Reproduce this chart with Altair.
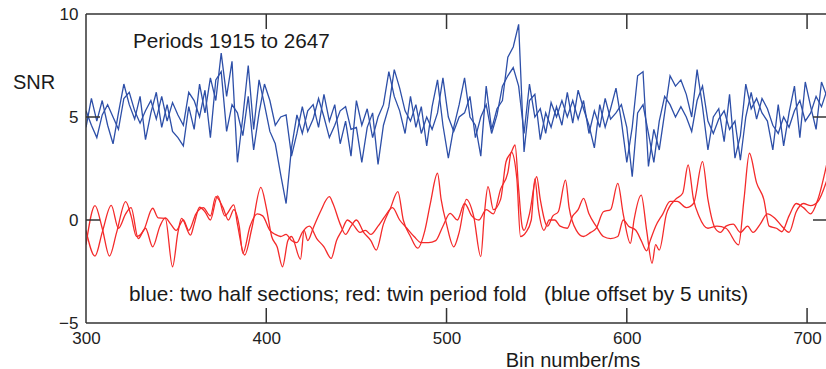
import altair as alt
import pandas as pd

# ---------------- data ----------------
blue_bins = list(range(300, 712, 3))
blue_first = [
    4.5, 5.9, 4.8, 5.8, 4.6, 3.7, 5.2, 6.6, 5.6, 4.9,
    6.0, 3.9, 5.2, 6.2, 4.5, 5.6, 4.3, 4.0, 3.6, 5.5,
    4.4, 6.6, 5.2, 6.9, 5.8, 8.1, 6.0, 7.7, 2.8, 5.0,
    7.5, 4.4, 6.8, 5.6, 4.3, 3.7, 2.2, 0.8, 3.5, 5.1,
    4.2, 5.3, 5.6, 4.5, 6.1, 4.8, 5.6, 3.7, 4.8, 3.1,
    5.8, 4.6, 5.4, 4.0, 5.0, 5.6, 7.2, 6.0, 5.3, 4.2,
    6.0, 4.5, 5.5, 3.6, 5.5, 6.8, 4.6, 3.0, 4.5, 5.6,
    6.9, 5.0, 4.6, 3.1, 6.5, 4.4, 5.4, 5.8, 7.9, 8.4,
    9.5, 3.3, 5.8, 6.1, 3.9, 5.2, 4.5, 5.5, 4.6, 6.2,
    4.7, 6.3, 5.4, 4.6, 3.5, 5.6, 4.5, 5.4, 6.4, 4.8,
    2.8, 4.5, 7.0, 7.2, 2.6, 4.4, 3.4, 5.2, 7.0, 6.5,
    6.8, 6.1, 5.0, 7.3, 5.5, 3.4, 5.0, 5.4, 3.8, 6.1,
    3.0, 4.1, 6.6, 5.4, 5.9, 5.2, 4.8, 3.4, 5.6, 3.6,
    5.2, 6.5, 4.0, 6.7, 5.5, 4.4, 6.7, 6.0,
]
blue_second = [
    5.3, 4.6, 4.0, 5.1, 5.6, 5.0, 4.4, 5.9, 6.2, 5.3,
    4.7, 5.3, 5.8, 4.9, 6.0, 4.8, 5.7, 5.1, 4.6, 6.2,
    5.8, 5.0, 6.3, 4.0, 6.8, 7.2, 4.3, 5.6, 5.2, 4.1,
    6.0, 3.4, 5.2, 6.6, 5.8, 4.6, 5.0, 5.1, 3.1, 4.2,
    5.5, 4.3, 4.9, 5.9, 5.0, 4.0, 4.6, 5.3, 5.5, 4.4,
    4.5, 2.8, 4.5, 5.2, 2.7, 4.6, 5.5, 7.3, 6.4, 5.3,
    4.8, 5.6, 4.2, 5.0, 4.4, 5.2, 6.9, 5.0, 4.3, 5.0,
    5.2, 6.0, 4.0, 5.0, 5.6, 4.2, 5.1, 6.5, 7.0, 7.4,
    6.5, 4.2, 6.6, 5.0, 5.4, 4.2, 5.7, 5.0, 5.8, 5.0,
    5.8, 4.9, 5.8, 4.2, 5.3, 4.5, 5.9, 4.9, 5.2, 5.6,
    4.5, 2.1, 5.2, 5.6, 4.2, 2.8, 4.8, 6.0, 5.6, 5.0,
    5.5, 5.0, 4.3, 5.8, 6.5, 4.8, 4.2, 4.9, 5.3, 4.4,
    4.8, 2.9, 5.0, 6.2, 4.9, 5.9, 5.4, 4.6, 4.2, 5.0,
    4.5, 5.3, 5.8, 4.8, 5.2, 6.0, 5.5, 6.3,
]

red_fold_a = [
    (300, -1.2), (305, 0.7), (309, -0.4), (313, -1.75), (317, -0.6), (322, 0.89),
    (325, 0.2), (328, -0.8), (332, -0.5), (337, 0.57), (340, 0.1), (344, 0.08),
    (348, -2.27), (351, -0.6), (353, 0.08), (358, -0.73), (360, -0.2), (363, 0.62),
    (366, 0.4), (369, 0.0), (373, 1.17), (377, 0.2), (382, 0.73), (384, -0.2),
    (388, -1.7), (392, -0.4), (397, 1.58), (400, 0.6), (403, -0.8), (406, -1.3),
    (409, -2.27), (412, -1.0), (414, -0.8), (419, -1.9), (421, -0.5), (423, -1.0),
    (426, -0.4), (430, 0.4), (435, 1.13), (437, 0.8), (441, -0.2), (444, -0.7),
    (447, -0.3), (450, 0.0), (454, -0.6), (458, -1.0), (461, -1.46), (465, -0.2),
    (469, 0.6), (473, 1.38), (476, 0.0), (480, -0.8), (484, -1.37), (488, -0.5),
    (491, 0.8), (495, 2.27), (497, 1.0), (500, -0.2), (504, -1.3), (507, -0.6),
    (511, 1.0), (515, 0.2), (519, -1.78), (521, 0.3), (523, 1.62), (526, 0.5),
    (530, 1.0), (533, 2.83), (536, 3.3), (538, 3.64), (540, 1.5), (542, -0.33),
    (543, -0.5), (546, 0.3), (550, 2.1), (552, 1.0), (556, -0.3), (559, 0.2),
    (562, 0.4), (566, 1.94), (568, 0.6), (572, -0.5), (576, -0.8), (580, -0.6),
    (583, -0.41), (587, 0.4), (591, 0.5), (595, 1.78), (598, 0.3), (602, -1.13),
    (604, 0.0), (608, 1.21), (611, -0.5), (614, -2.1), (616, -1.2), (618, -1.46),
    (622, 0.3), (627, 1.0), (631, 1.3), (634, 2.67), (637, 1.0), (640, 0.2),
    (645, -0.4), (650, -0.3), (655, -0.4), (662, -1.21), (665, 1.0), (668, 3.24),
    (672, 1.8), (676, 1.0), (679, -0.3), (683, -0.4), (686, -0.57), (690, 0.2),
    (694, 0.8), (698, 0.6), (702, 0.3), (706, 1.0), (711, 2.75),
]
red_fold_b = [
    (300, -0.5), (305, -1.75), (309, -0.6), (314, 0.71), (318, -0.4), (322, 0.3),
    (325, 0.6), (329, -0.9), (333, -0.4), (337, -1.3), (341, -0.3), (344, 0.1),
    (347, -0.2), (350, -0.5), (354, 0.0), (357, -0.5), (361, 0.3), (365, 0.6),
    (369, 0.2), (372, 1.13), (376, 0.6), (379, 0.0), (382, 0.5), (385, -0.3),
    (387, -1.62), (391, -0.3), (395, 0.3), (398, 0.2), (402, -0.5), (405, -0.7),
    (408, -0.8), (411, -0.7), (414, -1.0), (417, -1.1), (420, -0.6), (424, -0.3),
    (428, -0.9), (432, -1.3), (436, -1.86), (439, -1.0), (442, -0.5), (445, 0.0),
    (448, -0.2), (452, -0.6), (455, -0.5), (458, -0.7), (462, -0.3), (466, 0.2),
    (470, 0.6), (474, 0.0), (478, -0.4), (482, -0.8), (486, -1.1), (490, -1.1),
    (494, -1.0), (498, -0.3), (502, 0.32), (506, 0.0), (510, 0.8), (514, 0.2),
    (518, 0.0), (522, 0.5), (526, 0.3), (530, 1.5), (534, 2.3), (536, 3.3),
    (539, 2.0), (541, -0.8), (544, -0.6), (547, 0.0), (549, 1.99), (551, 0.5),
    (554, -0.5), (557, 0.0), (560, 0.0), (563, -0.3), (567, -0.4), (570, 0.2),
    (573, 0.5), (576, 1.05), (579, 0.3), (583, -0.3), (587, -0.8), (591, -0.9),
    (595, -0.8), (598, 0.0), (601, -0.3), (605, -0.5), (608, -1.0), (611, -1.5),
    (613, -1.0), (616, -0.3), (620, 0.3), (624, 0.9), (628, 0.9), (633, 0.6),
    (637, 0.8), (642, 2.83), (645, 1.0), (649, -0.4), (652, -0.6), (655, -0.3),
    (659, -0.2), (663, -0.6), (667, -0.3), (670, -0.6), (674, -0.2), (678, 0.3),
    (682, 0.1), (686, -0.3), (690, -0.6), (694, 0.4), (698, 0.8), (702, 0.7),
    (706, 0.9), (711, 1.94),
]

x_label_values = [300, 400, 500, 600, 700]
y_label_values = [-5, 0, 5, 10]
inner_x_ticks = [400, 500, 600, 700]
inner_y_ticks = [0, 5]

title_text = "Periods 1915 to 2647"
note_text = "blue: two half sections; red: twin period fold\u00a0\u00a0\u00a0(blue offset by 5 units)"
y_title = "SNR"
x_title = "Bin number/ms"

# ---------------- build tables ----------------
blue_rows = []
for b, v in zip(blue_bins, blue_first):
    blue_rows.append({"x": b, "y": v, "s": "b1"})
for b, v in zip(blue_bins, blue_second):
    blue_rows.append({"x": b, "y": v, "s": "b2"})
blue_df = pd.DataFrame(blue_rows)

red_rows = []
for b, v in red_fold_a:
    red_rows.append({"x": b, "y": v, "s": "r1"})
for b, v in red_fold_b:
    red_rows.append({"x": b, "y": v, "s": "r2"})
red_df = pd.DataFrame(red_rows)

W, H = 740, 309
FONT = "Liberation Sans"
BLUE = "#2d4fa8"
RED = "#f42a2a"
FRAME = "#333333"

xscale = alt.Scale(domain=[300, 710.5], nice=False, zero=False)
yscale = alt.Scale(domain=[-5, 10], nice=False, zero=False)
X = alt.X("x:Q", scale=xscale,
          axis=alt.Axis(values=x_label_values, ticks=False, domain=False, grid=False,
                        labelFontSize=17, labelFont=FONT, labelColor="#222222",
                        labelPadding=7, title=None, labelFlush=False))
Y = alt.Y("y:Q", scale=yscale,
          axis=alt.Axis(values=y_label_values, ticks=False, domain=False, grid=False,
                        labelFontSize=17, labelFont=FONT, labelColor="#222222",
                        labelPadding=8, title=None, labelFlush=False))

blue_lines = alt.Chart(blue_df).mark_line(strokeWidth=1.3, clip=True, color=BLUE).encode(
    x=X, y=Y, detail="s:N")
red_lines = alt.Chart(red_df).mark_line(strokeWidth=1.3, clip=True, color=RED,
                                        interpolate="monotone").encode(
    x=X, y=Y, detail="s:N")

one = pd.DataFrame({"k": [0]})
frame_top = alt.Chart(one).mark_rule(color=FRAME, strokeWidth=1.5).encode(
    x=alt.value(0), x2=alt.value(W), y=alt.value(0))
frame_bottom = alt.Chart(one).mark_rule(color=FRAME, strokeWidth=1.5).encode(
    x=alt.value(0), x2=alt.value(W), y=alt.value(H))
frame_left = alt.Chart(one).mark_rule(color=FRAME, strokeWidth=1.5).encode(
    x=alt.value(0), y=alt.value(0), y2=alt.value(H))

xt_df = pd.DataFrame({"x": inner_x_ticks})
ticks_bottom = alt.Chart(xt_df).mark_rule(color=FRAME, strokeWidth=1.5).encode(
    x=X, y=alt.value(H), y2=alt.value(H - 15))
ticks_top = alt.Chart(xt_df).mark_rule(color=FRAME, strokeWidth=1.5).encode(
    x=X, y=alt.value(0), y2=alt.value(15))
yt_df = pd.DataFrame({"y": inner_y_ticks})
ticks_left = alt.Chart(yt_df).mark_rule(color=FRAME, strokeWidth=1.5).encode(
    y=Y, x=alt.value(0), x2=alt.value(14))
ticks_right = alt.Chart(yt_df).mark_rule(color=FRAME, strokeWidth=1.5).encode(
    y=Y, x=alt.value(W - 13), x2=alt.value(W))

def label(text, px, py, size, align="left"):
    return alt.Chart(one).mark_text(
        text=text, font=FONT, fontSize=size, color="#1a1a1a",
        align=align, baseline="middle").encode(x=alt.value(px), y=alt.value(py))

t_periods = label(title_text, 47, 28, 20.7)
t_note = label(note_text, 43, 281, 20.8)
t_snr = label(y_title, -73, 69, 20)
t_bin = label(x_title, 487, 346.5, 20, align="center")

chart = alt.layer(
    blue_lines, red_lines, frame_top, frame_bottom, frame_left,
    ticks_bottom, ticks_top, ticks_left, ticks_right,
    t_periods, t_note, t_snr, t_bin,
).properties(
    width=W, height=H,
    autosize=alt.AutoSizeParams(type="none"),
    padding={"left": 86, "top": 14, "right": 0, "bottom": 46},
    background="white",
).configure_view(strokeWidth=0)

chart.save("out.html", embed_options={"renderer": "svg", "actions": False})
